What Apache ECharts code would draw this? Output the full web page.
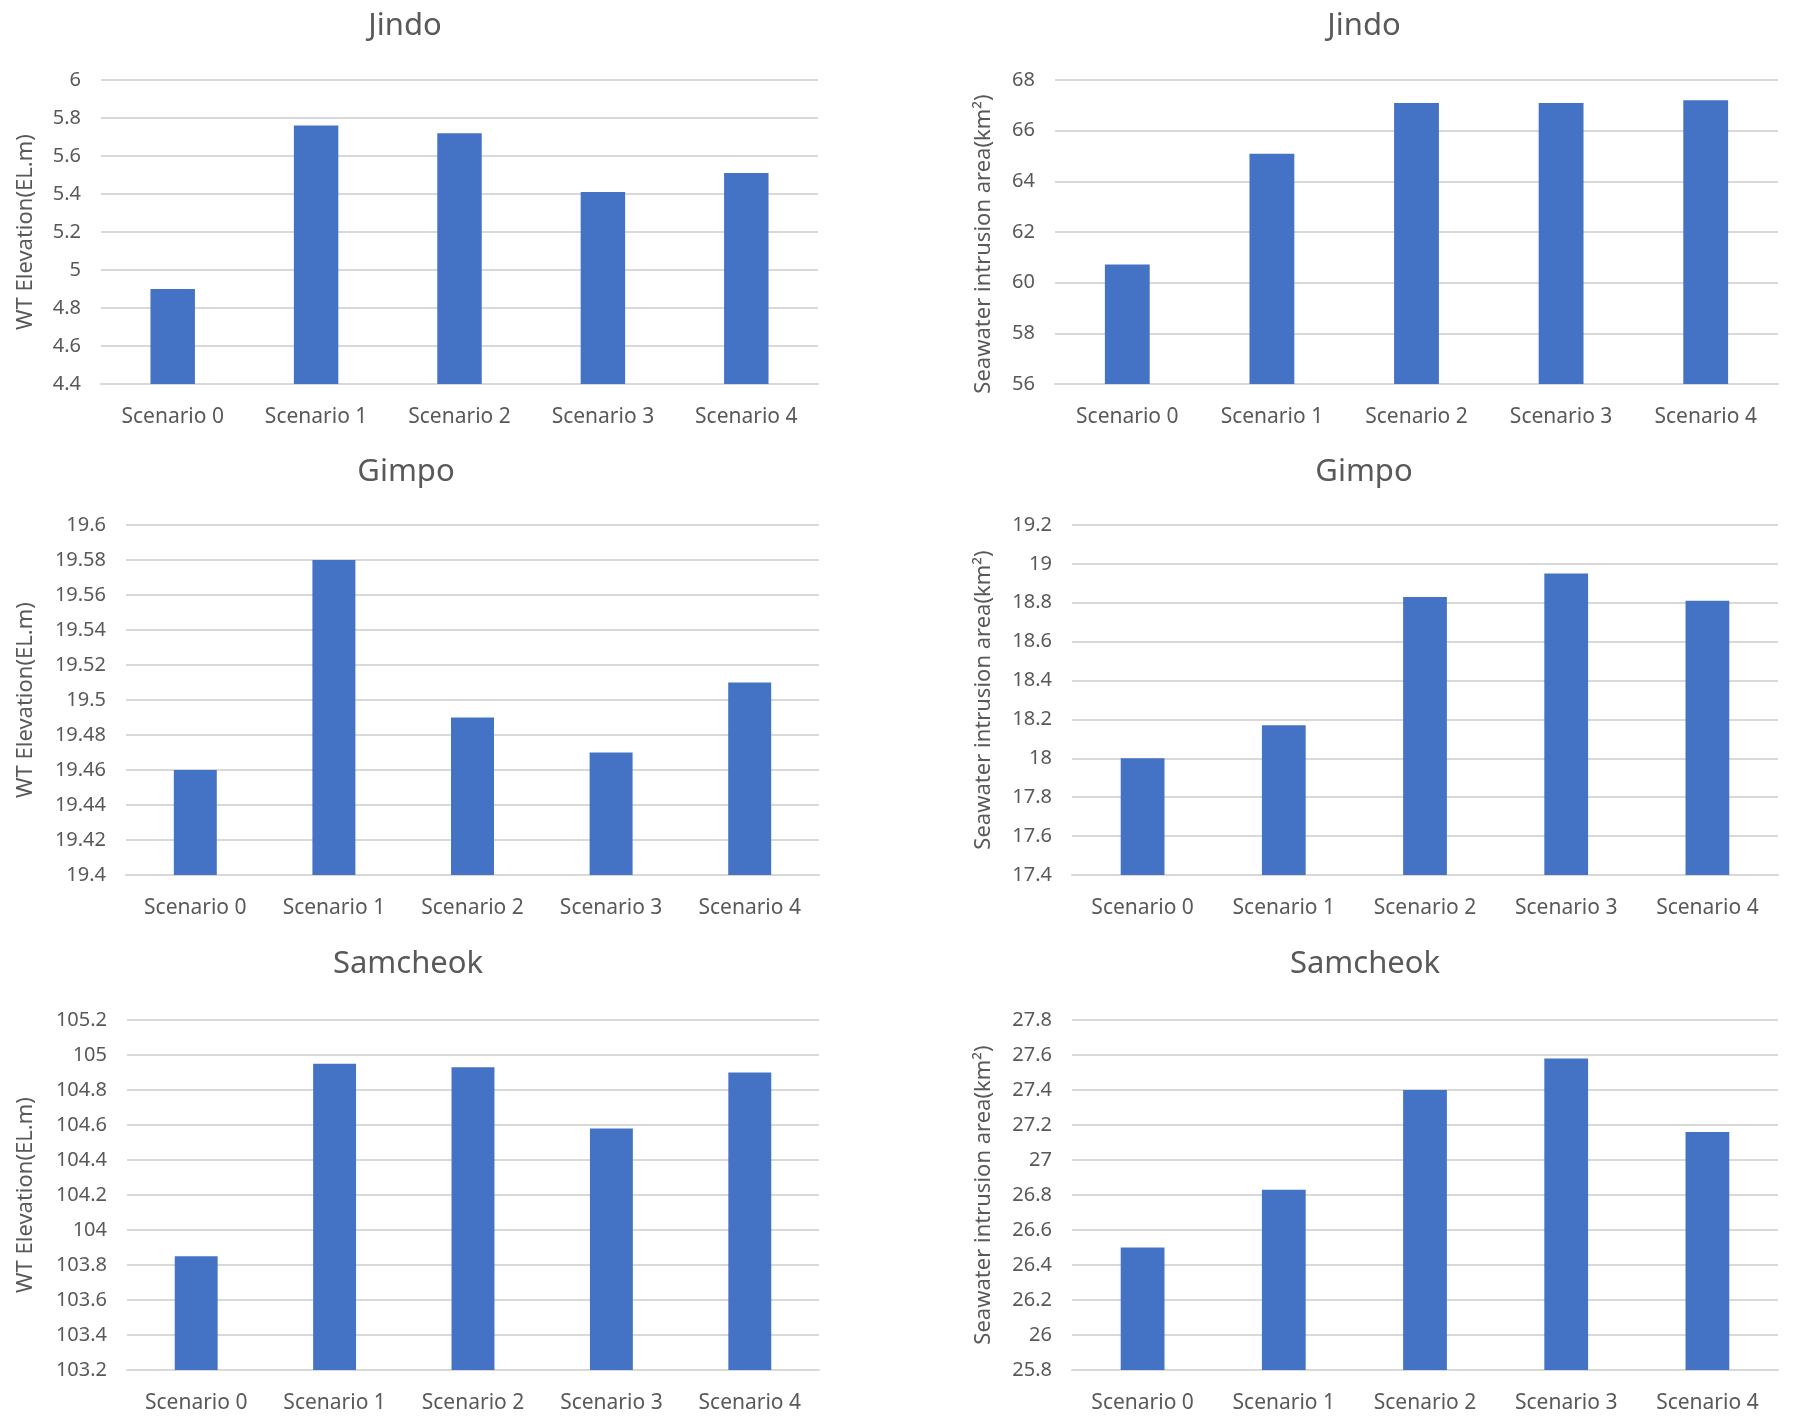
<!DOCTYPE html>
<html>
<head>
<meta charset="utf-8">
<script src="https://cdn.jsdelivr.net/npm/echarts@6/dist/echarts.min.js"></script>
<style>
html,body{margin:0;padding:0;background:#fff;}
#c{width:1799px;height:1423px;}
</style>
</head>
<body>
<div id="c"></div>
<script>
const categories = ['Scenario 0', 'Scenario 1', 'Scenario 2', 'Scenario 3', 'Scenario 4'];
const panelTitles = ['Jindo', 'Jindo', 'Gimpo', 'Gimpo', 'Samcheok', 'Samcheok'];
const yNames = ['WT Elevation(EL.m)', 'Seawater intrusion area(km\u00B2)'];

const jindoWT = [4.90, 5.76, 5.72, 5.41, 5.51];
const jindoArea = [60.72, 65.09, 67.09, 67.09, 67.20];
const gimpoWT = [19.46, 19.58, 19.49, 19.47, 19.51];
const gimpoArea = [18.00, 18.17, 18.83, 18.95, 18.81];
const samcheokWT = [103.85, 104.95, 104.93, 104.58, 104.90];
const samcheokArea = [26.50, 26.83, 27.40, 27.58, 27.16];

const yMin = [4.4, 56, 19.4, 17.4, 103.2, 25.8];
const yMax = [6, 68, 19.6, 19.2, 105.2, 27.8];
const yStep = [0.2, 2, 0.02, 0.2, 0.2, 0.2];

const seriesData = [jindoWT, jindoArea, gimpoWT, gimpoArea, samcheokWT, samcheokArea];

const FONT = 'Noto Sans';
const GRAY = '#595959';
const LINE = '#D9D9D9';
const BAR = '#4472C4';

const grids = [
  {left: 101, top: 80, width: 717, height: 304},
  {left: 1055, top: 80, width: 723, height: 304},
  {left: 126, top: 525, width: 693, height: 350},
  {left: 1072, top: 525, width: 706, height: 350},
  {left: 127, top: 1020, width: 692, height: 350},
  {left: 1072, top: 1020, width: 706, height: 350}
];
const titlePos = [[400, 6], [1359, 6], [401, 452], [1359, 452], [403, 944], [1360, 944]];
const nameGaps = [64, 60, 89, 77, 90, 77];
const namePads = [[0,0,0,0], [0,24,0,0], [0,0,0,0], [0,0,0,0], [0,0,0,0], [0,0,0,0]];

const option = {
  backgroundColor: '#fff',
  animation: false,
  title: panelTitles.map((t, i) => ({
    text: t, left: titlePos[i][0], top: titlePos[i][1], textAlign: 'center',
    textStyle: {fontFamily: FONT, fontSize: 31, fontWeight: 'normal', color: GRAY}
  })),
  grid: grids,
  xAxis: grids.map((g, i) => ({
    type: 'category', gridIndex: i, data: categories,
    axisLine: {show: true, lineStyle: {color: LINE, width: 2}},
    axisTick: {show: false},
    axisLabel: {fontFamily: FONT, fontSize: 21, color: GRAY, margin: 23}
  })),
  yAxis: grids.map((g, i) => ({
    type: 'value', gridIndex: i, min: yMin[i], max: yMax[i], interval: yStep[i],
    name: yNames[i % 2], nameLocation: 'middle', nameGap: nameGaps[i],
    nameTextStyle: {fontFamily: FONT, fontSize: 22, color: GRAY, padding: namePads[i]},
    axisLine: {show: false}, axisTick: {show: false},
    axisLabel: {fontFamily: FONT, fontSize: 20, color: GRAY, margin: 20},
    splitLine: {show: true, lineStyle: {color: LINE, width: 2}}
  })),
  series: seriesData.map((d, i) => ({
    type: 'bar', xAxisIndex: i, yAxisIndex: i, data: d,
    barWidth: '31%', itemStyle: {color: BAR}
  }))
};

const chart = echarts.init(document.getElementById('c'), null, {renderer: 'canvas'});
chart.setOption(option);
</script>
</body>
</html>
